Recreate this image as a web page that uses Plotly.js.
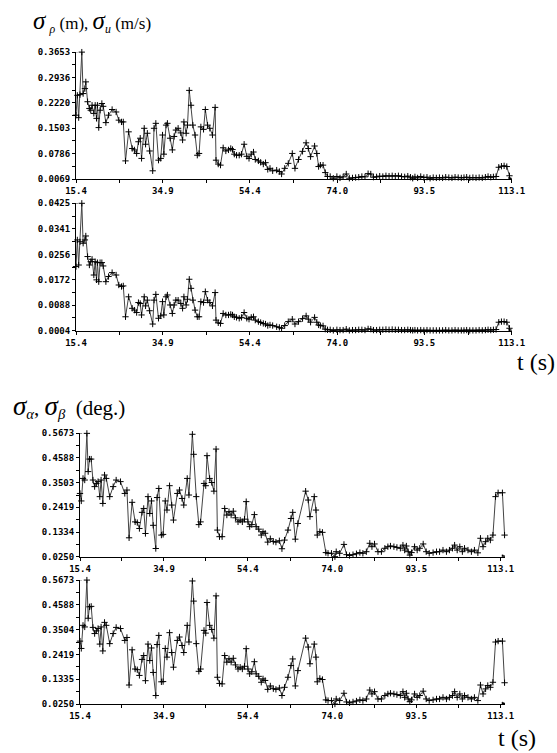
<!DOCTYPE html>
<html><head><meta charset="utf-8">
<script src="https://cdn.plot.ly/plotly-3.0.1.min.js"></script>
<style>html,body{margin:0;padding:0;background:#fff}#plot{width:557px;height:753px}</style>
</head><body><div id="plot"></div>
<script>
// ---- data: sigma_rho (m) and sigma_u (m/s) ----
const tRho = [15.4,15.7,16.0,16.3,16.7,17.0,17.4,17.6,18.0,18.4,
 18.7,19.0,19.4,19.7,20.0,20.2,20.5,20.8,21.2,21.5,
 22.1,22.7,23.5,24.4,25.0,25.6,26.0,26.5,27.2,28.0,
 28.5,29.0,29.4,29.8,30.1,30.7,31.0,31.4,31.9,32.6,
 32.9,33.3,33.9,34.4,34.8,35.1,35.6,35.9,36.5,37.0,
 37.4,37.8,38.3,38.9,39.3,39.6,40.1,40.4,40.8,41.2,
 41.6,42.1,42.6,43.0,43.4,44.0,44.4,44.9,45.4,46.0,
 46.6,46.8,47.3,47.8,48.4,49.0,49.6,50.1,50.5,50.9,
 51.4,52.0,52.5,53.1,53.7,54.2,54.7,55.2,55.6,56.3,
 56.8,57.4,57.9,58.4,58.9,59.5,60.4,61.0,61.5,62.2,
 63.0,63.9,64.5,65.3,66.2,67.0,67.5,68.0,68.9,69.4,
 69.8,70.2,70.8,71.3,71.8,72.4,73.1,73.9,74.6,75.3,
 76.0,76.7,77.4,78.1,78.8,79.5,80.2,80.9,81.5,82.1,
 82.8,83.5,84.2,84.9,85.6,86.3,87.0,87.7,88.4,89.1,
 89.8,90.4,90.9,91.4,92.0,92.7,93.4,94.1,94.8,95.5,
 96.2,96.9,97.6,98.3,99.0,99.7,100.4,101.1,101.8,102.4,
 103.0,103.7,104.4,105.1,105.8,106.5,107.2,107.8,108.4,109.0,
 109.6,110.2,110.8,111.4,112.0,112.6];
const sigmaRho = [0.187,0.243,0.180,0.245,0.365,0.248,0.262,0.281,0.225,0.206,
 0.201,0.215,0.192,0.215,0.178,0.215,0.152,0.201,0.220,0.212,
 0.166,0.187,0.203,0.196,0.173,0.168,0.168,0.058,0.140,0.093,
 0.089,0.079,0.112,0.122,0.065,0.150,0.105,0.136,0.086,0.030,
 0.150,0.164,0.060,0.065,0.131,0.077,0.159,0.164,0.122,0.089,
 0.127,0.145,0.150,0.137,0.117,0.168,0.136,0.159,0.257,0.215,
 0.159,0.131,0.074,0.079,0.154,0.147,0.203,0.159,0.150,0.131,
 0.209,0.060,0.049,0.046,0.095,0.086,0.089,0.093,0.090,0.077,
 0.074,0.074,0.077,0.105,0.071,0.065,0.077,0.083,0.062,0.058,
 0.054,0.049,0.053,0.034,0.037,0.030,0.032,0.028,0.021,0.037,
 0.051,0.079,0.037,0.062,0.085,0.109,0.093,0.070,0.100,0.079,
 0.042,0.046,0.046,0.025,0.014,0.014,0.009,0.014,0.010,0.013,
 0.021,0.009,0.010,0.011,0.012,0.014,0.013,0.022,0.021,0.012,
 0.013,0.015,0.014,0.016,0.015,0.016,0.015,0.016,0.014,0.013,
 0.015,0.012,0.009,0.013,0.010,0.014,0.011,0.012,0.009,0.011,
 0.010,0.011,0.010,0.012,0.011,0.010,0.012,0.011,0.010,0.011,
 0.012,0.010,0.011,0.010,0.011,0.010,0.012,0.014,0.012,0.013,
 0.014,0.040,0.043,0.044,0.042,0.016];
const sigmaU = [0.0216,0.0304,0.0221,0.0298,0.0425,0.0293,0.0304,0.0317,0.0249,0.0221,
 0.0232,0.0240,0.0188,0.0232,0.0172,0.0229,0.0166,0.0229,0.0229,0.0218,
 0.0166,0.0183,0.0196,0.0188,0.0155,0.0150,0.0152,0.0050,0.0116,0.0078,
 0.0072,0.0064,0.0097,0.0094,0.0056,0.0116,0.0086,0.0105,0.0070,0.0026,
 0.0105,0.0124,0.0045,0.0053,0.0100,0.0056,0.0116,0.0122,0.0089,0.0061,
 0.0089,0.0105,0.0105,0.0094,0.0078,0.0116,0.0089,0.0108,0.0174,0.0144,
 0.0105,0.0072,0.0050,0.0050,0.0100,0.0097,0.0133,0.0105,0.0097,0.0086,
 0.0130,0.0039,0.0030,0.0028,0.0061,0.0056,0.0056,0.0058,0.0056,0.0050,
 0.0048,0.0045,0.0048,0.0064,0.0045,0.0042,0.0048,0.0050,0.0039,0.0034,
 0.0031,0.0028,0.0026,0.0021,0.0023,0.0021,0.0017,0.0015,0.0012,0.0021,
 0.0034,0.0042,0.0026,0.0034,0.0044,0.0053,0.0042,0.0032,0.0048,0.0032,
 0.0023,0.0021,0.0020,0.0009,0.0007,0.0007,0.0005,0.0007,0.0006,0.0006,
 0.0009,0.0005,0.0006,0.0006,0.0007,0.0007,0.0006,0.0010,0.0009,0.0006,
 0.0006,0.0007,0.0007,0.0008,0.0007,0.0008,0.0007,0.0007,0.0006,0.0006,
 0.0007,0.0006,0.0005,0.0006,0.0005,0.0006,0.0005,0.0006,0.0005,0.0005,
 0.0005,0.0005,0.0005,0.0006,0.0005,0.0005,0.0006,0.0005,0.0005,0.0005,
 0.0006,0.0005,0.0005,0.0005,0.0006,0.0005,0.0006,0.0007,0.0006,0.0007,
 0.0008,0.0032,0.0034,0.0034,0.0032,0.0012];

// ---- data: sigma_alpha, sigma_beta (deg.) ----
const tAng = [15.4,15.7,16.1,16.5,17.0,17.3,17.6,18.0,18.4,18.8,
 19.2,19.6,20.0,20.3,20.7,21.1,21.5,22.3,23.1,23.8,
 24.8,25.8,26.3,26.8,27.5,28.2,28.7,29.2,29.8,30.2,
 30.6,31.2,31.6,32.0,32.4,33.0,33.3,33.7,34.3,34.7,
 35.2,35.6,36.2,36.7,37.1,38.0,38.5,39.1,39.5,40.3,
 40.7,41.5,41.8,42.4,43.0,43.4,44.2,44.6,44.9,45.5,
 46.0,46.5,47.0,47.3,47.8,48.4,49.0,49.5,50.0,50.5,
 51.0,51.5,52.1,52.6,53.1,53.6,54.0,54.4,54.8,55.3,
 55.9,56.3,56.9,57.5,57.9,58.4,59.0,59.6,60.3,60.9,
 61.7,62.3,62.9,63.7,64.4,64.8,65.4,66.0,67.8,68.4,
 68.8,69.8,70.2,70.5,71.1,71.7,72.5,73.0,73.8,74.6,
 74.9,75.7,76.7,77.3,78.0,78.8,79.6,80.4,81.1,81.9,
 82.7,83.2,83.8,84.6,85.4,86.2,86.9,87.5,88.3,89.0,
 89.8,90.4,90.8,91.2,91.6,92.0,92.4,93.1,93.7,94.3,
 95.1,95.8,96.5,97.4,98.2,98.9,99.7,100.5,101.2,101.9,
 102.4,103.0,103.6,104.2,104.7,105.5,106.3,107.0,107.8,108.4,
 109.0,109.6,110.1,110.7,111.3,111.9,112.5,113.5,114.0];
const sigmaAlpha = [0.303,0.270,0.369,0.362,0.567,0.399,0.454,0.454,0.362,0.333,
 0.347,0.355,0.289,0.362,0.259,0.384,0.369,0.289,0.333,0.362,
 0.355,0.303,0.318,0.108,0.264,0.178,0.175,0.149,0.220,0.237,
 0.127,0.289,0.215,0.270,0.163,0.061,0.285,0.325,0.120,0.123,
 0.270,0.230,0.337,0.252,0.186,0.303,0.318,0.281,0.252,0.369,
 0.296,0.563,0.475,0.289,0.166,0.178,0.347,0.337,0.469,0.369,
 0.351,0.313,0.498,0.142,0.113,0.113,0.237,0.208,0.223,0.208,
 0.225,0.196,0.178,0.186,0.178,0.190,0.267,0.178,0.157,0.166,
 0.210,0.157,0.146,0.120,0.135,0.128,0.089,0.104,0.092,0.089,
 0.095,0.060,0.098,0.142,0.193,0.220,0.102,0.171,0.313,0.274,
 0.201,0.289,0.230,0.120,0.135,0.132,0.043,0.040,0.040,0.025,
 0.047,0.040,0.079,0.034,0.030,0.034,0.038,0.043,0.040,0.047,
 0.084,0.069,0.081,0.047,0.047,0.062,0.069,0.072,0.069,0.066,
 0.062,0.076,0.054,0.072,0.047,0.032,0.043,0.069,0.054,0.062,
 0.081,0.047,0.040,0.043,0.047,0.047,0.054,0.047,0.054,0.062,
 0.076,0.054,0.069,0.047,0.062,0.054,0.047,0.054,0.042,0.106,
 0.069,0.091,0.106,0.098,0.120,0.289,0.306,0.306,0.120];
const sigmaBeta = [0.300,0.268,0.369,0.362,0.567,0.400,0.450,0.452,0.360,0.333,
 0.345,0.355,0.287,0.362,0.257,0.382,0.369,0.289,0.333,0.360,
 0.355,0.303,0.316,0.108,0.262,0.178,0.175,0.150,0.220,0.237,
 0.127,0.287,0.215,0.270,0.163,0.062,0.285,0.325,0.122,0.123,
 0.268,0.230,0.337,0.250,0.186,0.303,0.318,0.281,0.250,0.369,
 0.296,0.563,0.475,0.289,0.168,0.178,0.347,0.335,0.469,0.369,
 0.351,0.313,0.498,0.142,0.115,0.113,0.237,0.208,0.223,0.208,
 0.225,0.196,0.178,0.186,0.178,0.190,0.267,0.178,0.157,0.166,
 0.210,0.157,0.146,0.120,0.135,0.128,0.089,0.104,0.092,0.089,
 0.095,0.062,0.098,0.142,0.193,0.222,0.104,0.171,0.313,0.274,
 0.201,0.287,0.230,0.122,0.137,0.132,0.043,0.040,0.040,0.025,
 0.047,0.040,0.072,0.034,0.030,0.034,0.038,0.043,0.040,0.047,
 0.086,0.069,0.079,0.047,0.047,0.062,0.069,0.072,0.069,0.066,
 0.062,0.079,0.054,0.072,0.047,0.035,0.043,0.069,0.054,0.062,
 0.081,0.047,0.040,0.043,0.047,0.047,0.054,0.047,0.054,0.062,
 0.079,0.054,0.069,0.047,0.062,0.054,0.047,0.054,0.040,0.108,
 0.069,0.091,0.106,0.098,0.120,0.296,0.300,0.300,0.118];

// ---- tick labels ----
const xTickLabels = ['15.4','34.9','54.4','74.0','93.5','113.1'];
const yTicksRho   = ['0.0069','0.0786','0.1503','0.2220','0.2936','0.3653'];
const yTicksU     = ['0.0004','0.0088','0.0172','0.0256','0.0341','0.0425'];
const yTicksAlpha = ['0.0250','0.1334','0.2419','0.3503','0.4588','0.5673'];
const yTicksBeta  = ['0.0250','0.1335','0.2419','0.3504','0.4588','0.5673'];

// ---- layout helpers ----
const W = 557, H = 753;
const px = v => v / W;
const py = v => (H - v) / H;
const mids = a => a.slice(1).map((v, i) => (v + a[i]) / 2);
const tickFont = {family: 'DejaVu Sans Mono', size: 9, weight: 'bold', color: '#000'};

function xAxis(dom, rng, anchor) {
  const vals = xTickLabels.map(Number);
  return {domain: dom, range: rng, anchor: anchor, tickmode: 'array', tickvals: vals, ticktext: xTickLabels,
    showline: true, linecolor: '#000', linewidth: 1, showgrid: false, zeroline: false,
    ticks: 'outside', ticklen: 3, tickcolor: '#000', tickfont: tickFont,
    minor: {tickvals: mids(vals), ticks: 'outside', ticklen: 3, tickcolor: '#000', showgrid: false}};
}
function yAxis(dom, labels, anchor) {
  const vals = labels.map(Number);
  return {domain: dom, range: [vals[0], vals[vals.length - 1]], anchor: anchor, tickmode: 'array',
    tickvals: vals, ticktext: labels,
    showline: true, linecolor: '#000', linewidth: 1, showgrid: false, zeroline: false,
    ticks: 'outside', ticklen: 3, tickcolor: '#000', tickfont: tickFont,
    minor: {tickvals: mids(vals), ticks: 'outside', ticklen: 3, tickcolor: '#000', showgrid: false}};
}
function trace(x, y, xa, ya) {
  return {x: x, y: y, xaxis: xa, yaxis: ya, type: 'scatter', mode: 'lines+markers', cliponaxis: false,
    line: {color: '#444', width: 1},
    marker: {symbol: 'cross-thin', size: 4.5, line: {color: '#000', width: 1}, color: '#000'},
    showlegend: false, hoverinfo: 'skip'};
}

const data = [
  trace(tRho, sigmaRho, 'x', 'y'),
  trace(tRho, sigmaU, 'x2', 'y2'),
  trace(tAng, sigmaAlpha, 'x3', 'y3'),
  trace(tAng, sigmaBeta, 'x4', 'y4')
];

const domA = [px(76), px(511.7)];
const domB = [px(80), px(505)];
const rngA = [15.4, 113.1];
const rngB = [15.4, 114.1];

const serif = 'Liberation Serif';
const annotations = [
  {xref: 'paper', yref: 'paper', x: px(31), y: py(22), xanchor: 'left', yanchor: 'middle', showarrow: false,
   font: {family: serif, size: 17, color: '#000'},
   text: '<span style="font-size:25px"><i>σ</i></span> <sub><i>ρ</i></sub> (m), <span style="font-size:25px"><i>σ</i></span><sub><i>u</i></sub> (m/s)'},
  {xref: 'paper', yref: 'paper', x: px(11), y: py(406), xanchor: 'left', yanchor: 'middle', showarrow: false,
   font: {family: serif, size: 21, color: '#000'},
   text: '<span style="font-size:27px"><i>σ</i></span><sub><i>α</i></sub>, <span style="font-size:27px"><i>σ</i></span><sub><i>β</i></sub>  (deg.)'},
  {xref: 'paper', yref: 'paper', x: px(557), y: py(362), xanchor: 'right', yanchor: 'middle', showarrow: false,
   font: {family: serif, size: 24, color: '#000'}, text: 't (s)'},
  {xref: 'paper', yref: 'paper', x: px(538), y: py(738), xanchor: 'right', yanchor: 'middle', showarrow: false,
   font: {family: serif, size: 24, color: '#000'}, text: 't (s)'}
];

// small arrowheads at the ends of the axes, drawn as pixel-sized shapes
const shapes = [];
[['x', 'y', rngA, yTicksRho], ['x2', 'y2', rngA, yTicksU], ['x3', 'y3', rngB, yTicksAlpha], ['x4', 'y4', rngB, yTicksBeta]]
.forEach(([xa, ya, rng, yl]) => {
  const y0 = Number(yl[0]), y1 = Number(yl[yl.length - 1]);
  shapes.push({type: 'path', xref: xa, yref: ya, xsizemode: 'pixel', ysizemode: 'pixel',
    xanchor: rng[1], yanchor: y0, path: 'M -3 -2 L 2 0 L -3 2 Z',
    fillcolor: '#000', line: {color: '#000', width: 0.5}});
  shapes.push({type: 'path', xref: xa, yref: ya, xsizemode: 'pixel', ysizemode: 'pixel',
    xanchor: rng[0], yanchor: y1, path: 'M -2 0 L 0 5 L 2 0 Z',
    fillcolor: '#000', line: {color: '#000', width: 0.5}});
});

const layout = {
  width: W, height: H, margin: {l: 0, r: 0, t: 0, b: 0},
  paper_bgcolor: '#fff', plot_bgcolor: 'rgba(0,0,0,0)',
  xaxis:  xAxis(domA, rngA, 'y'),
  yaxis:  yAxis([py(179), py(52)], yTicksRho, 'x'),
  xaxis2: xAxis(domA, rngA, 'y2'),
  yaxis2: yAxis([py(330.7), py(203.3)], yTicksU, 'x2'),
  xaxis3: xAxis(domB, rngB, 'y3'),
  yaxis3: yAxis([py(556.7), py(433.3)], yTicksAlpha, 'x3'),
  xaxis4: xAxis(domB, rngB, 'y4'),
  yaxis4: yAxis([py(704), py(580)], yTicksBeta, 'x4'),
  annotations: annotations,
  shapes: shapes
};

Plotly.newPlot('plot', data, layout, {staticPlot: true, displayModeBar: false}).then(gd => {
  // drop the empty placeholder text nodes (unused axis titles)
  gd.querySelectorAll('text').forEach(t => { if (!t.textContent.trim()) t.remove(); });
});
</script></body></html>
